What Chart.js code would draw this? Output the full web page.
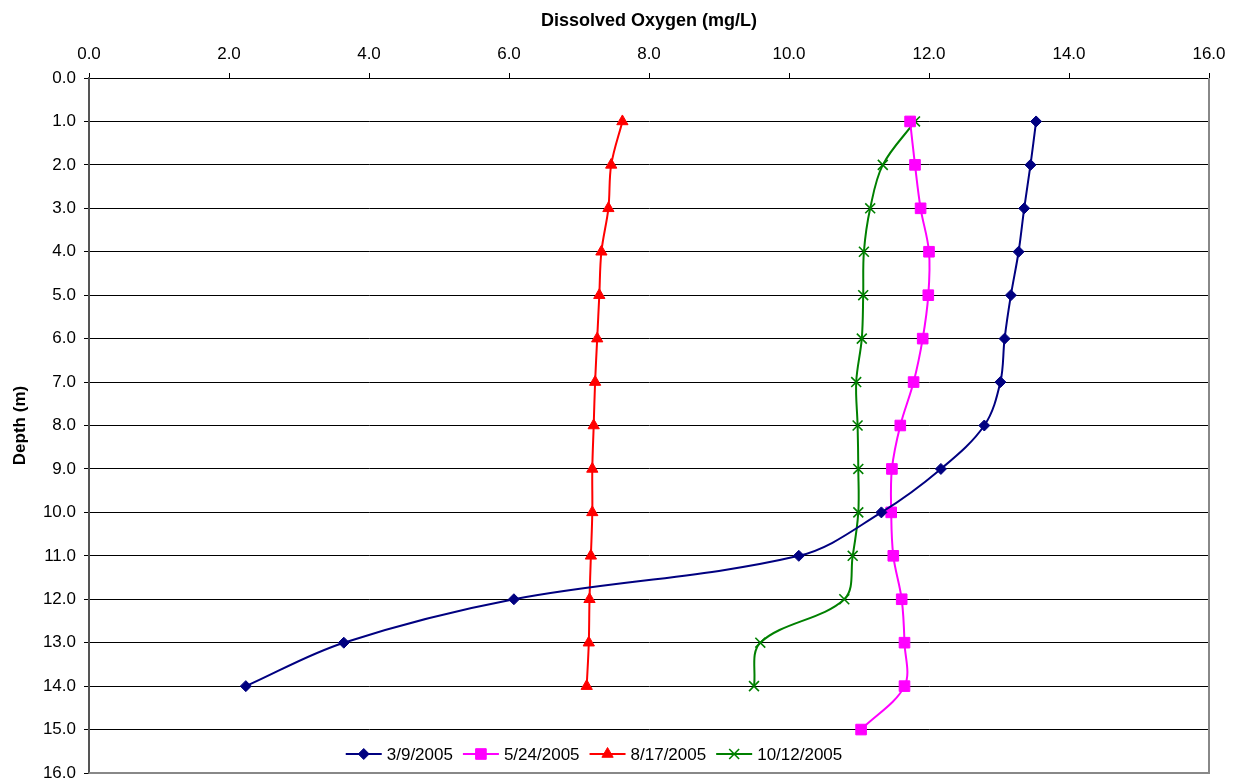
<!DOCTYPE html>
<html><head><meta charset="utf-8">
<script src="https://cdn.jsdelivr.net/npm/chart.js@4.4.0/dist/chart.umd.min.js"></script>
<style>html,body{margin:0;padding:0;background:#fff;}#wrap{width:1240px;height:784px;}</style>
</head><body><div id="wrap"><canvas id="c" width="1240" height="784"></canvas></div>
<script>
// ---- data ----
const depths = [1,2,3,4,5,6,7,8,9,10,11,12,13,14,15];
const do_2005_03_09 = [13.53,13.45,13.36,13.28,13.17,13.08,13.02,12.79,12.17,11.32,10.14,6.07,3.64,2.24];
const do_2005_05_24 = [11.73,11.80,11.88,12.00,11.99,11.91,11.78,11.59,11.47,11.46,11.49,11.61,11.65,11.65,11.03];
const do_2005_08_17 = [7.62,7.46,7.42,7.32,7.29,7.26,7.23,7.21,7.19,7.19,7.17,7.15,7.14,7.11];
const do_2005_10_12 = [11.80,11.34,11.16,11.07,11.06,11.04,10.96,10.98,10.99,10.99,10.91,10.79,9.59,9.50];
const seriesLabels = ['3/9/2005','5/24/2005','8/17/2005','10/12/2005'];
const xTitle = 'Dissolved Oxygen (mg/L)';
const yTitle = 'Depth (m)';

const FONT = "'Liberation Sans', Arial, sans-serif";
const toPts = arr => arr.map((v,i)=>({x:v, y:depths[i]}));

const styles = [
  {color:'#000080', pointStyle:'rectRot', radius:5.5},
  {color:'#FF00FF', pointStyle:'rect', radius:7.5},
  {color:'#FF0000', pointStyle:'triangle', radius:6.5},
  {color:'#008000', pointStyle:'crossRot', radius:7}
];
const seriesData = [do_2005_03_09, do_2005_05_24, do_2005_08_17, do_2005_10_12];

const datasets = seriesData.map((arr,i)=>({
  label: seriesLabels[i],
  data: toPts(arr),
  showLine: true,
  borderColor: styles[i].color,
  backgroundColor: styles[i].color,
  borderWidth: 2,
  tension: 0.35,
  pointStyle: styles[i].pointStyle,
  pointRadius: styles[i].radius,
  pointBorderWidth: styles[i].pointStyle==='crossRot'?1.6:1,
  pointBackgroundColor: styles[i].color,
  pointBorderColor: styles[i].color,
  clip: false
}));

function drawMarker(ctx, style, x, y){
  const opts = {pointStyle: style.pointStyle, radius: style.radius, borderWidth: style.pointStyle==='crossRot'?1.6:1, rotation:0};
  ctx.save();
  ctx.fillStyle = style.color; ctx.strokeStyle = style.color; ctx.lineWidth = opts.borderWidth;
  if (Chart.helpers && Chart.helpers.drawPoint) {
    Chart.helpers.drawPoint(ctx, opts, x, y);
  }
  ctx.restore();
}

const frameAndLegend = {
  id:'frameAndLegend',
  afterDatasetsDraw(chart){
    const {ctx, chartArea:a} = chart;
    ctx.save();
    ctx.strokeStyle = '#888888'; ctx.lineWidth = 2;
    ctx.beginPath();
    ctx.moveTo(a.right, a.top); ctx.lineTo(a.right, a.bottom); ctx.lineTo(a.left, a.bottom);
    ctx.stroke();
    // legend
    ctx.font = '17px ' + FONT;
    ctx.textBaseline = 'middle';
    const lineLen = 36, gapText = 5, gapEntry = 10;
    const widths = seriesLabels.map(t => lineLen + gapText + ctx.measureText(t).width);
    const total = widths.reduce((s,w)=>s+w,0) + gapEntry*(widths.length-1);
    let x = 594 - total/2;
    const y = 754;
    seriesLabels.forEach((t,i)=>{
      ctx.strokeStyle = styles[i].color; ctx.lineWidth = 2;
      ctx.beginPath(); ctx.moveTo(x, y); ctx.lineTo(x+lineLen, y); ctx.stroke();
      drawMarker(ctx, styles[i], x+lineLen/2, y);
      ctx.fillStyle = '#000';
      ctx.textAlign = 'left';
      ctx.fillText(t, x+lineLen+gapText, y+1);
      x += widths[i] + gapEntry;
    });
    ctx.restore();
  }
};

new Chart(document.getElementById('c'), {
  type:'scatter',
  data:{datasets},
  options:{
    responsive:false, animation:false, devicePixelRatio:1,
    layout:{padding:{left:0, top:0, right:31, bottom:11}},
    plugins:{legend:{display:false}, tooltip:{enabled:false}},
    scales:{
      x:{
        type:'linear', position:'top', min:0, max:16,
        afterFit(s){ s.height = 78; s.paddingLeft = 0; s.paddingRight = 0; },
        ticks:{stepSize:2, padding:8, color:'#000', font:{family:FONT, size:17}, callback:v=>Number(v).toFixed(1)},
        grid:{drawOnChartArea:false, drawTicks:true, tickLength:5, color:'#000'},
        border:{color:'#000', width:1},
        title:{display:true, text:xTitle, color:'#000', font:{family:FONT, size:18, weight:'bold'}, padding:{top:10,bottom:0}}
      },
      y:{
        type:'linear', reverse:true, min:0, max:16,
        afterFit(s){ s.width = 89; s.paddingTop = 0; s.paddingBottom = 0; },
        ticks:{stepSize:1, padding:8, color:'#000', font:{family:FONT, size:17}, callback:v=>Number(v).toFixed(1)},
        grid:{color:'#000', lineWidth:1, tickLength:5},
        border:{color:'#555', width:2},
        title:{display:true, text:yTitle, color:'#000', font:{family:FONT, size:17, weight:'bold'}, padding:{top:10,bottom:0}}
      }
    }
  },
  plugins:[frameAndLegend]
});
</script></body></html>
